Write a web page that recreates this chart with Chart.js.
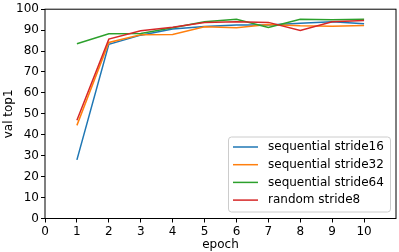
<!DOCTYPE html>
<html lang="en">
<head>
    <meta charset="UTF-8">
    <title>val top1 per epoch</title>
    <script src="https://cdn.jsdelivr.net/npm/chart.js"></script>
    <style>
        html, body { margin: 0; padding: 0; background: #fff; }
        #wrap { width: 399px; height: 252px; }
    </style>
</head>
<body>
    <div id="wrap"><canvas id="accChart" width="399" height="252"></canvas></div>

    <script>
        const epochs = [1, 2, 3, 4, 5, 6, 7, 8, 9, 10];
        const seqStride16 = [28.0, 83.2, 87.6, 90.5, 91.7, 92.4, 92.5, 93.3, 94.0, 93.0];
        const seqStride32 = [44.5, 84.1, 87.8, 87.9, 91.6, 91.1, 92.7, 92.1, 91.9, 92.2];
        const seqStride64 = [83.5, 88.3, 88.4, 91.1, 94.0, 95.2, 91.3, 95.2, 95.0, 95.2];
        const randStride8 = [46.9, 85.7, 89.7, 91.4, 93.7, 94.0, 93.7, 89.8, 94.0, 94.6];
        const seriesNames = ['sequential stride16', 'sequential stride32', 'sequential stride64', 'random stride8'];
        const seriesColors = ['#1f77b4', '#ff7f0e', '#2ca02c', '#d62728'];
        const xTicks = [0, 1, 2, 3, 4, 5, 6, 7, 8, 9, 10];
        const yTicks = [0, 10, 20, 30, 40, 50, 60, 70, 80, 90, 100];

        const font = { family: 'DejaVu Sans', size: 12 };
        const allSeries = [seqStride16, seqStride32, seqStride64, randStride8];

        const datasets = allSeries.map((vals, i) => ({
            label: seriesNames[i],
            data: epochs.map((e, j) => ({ x: e, y: vals[j] })),
            borderColor: seriesColors[i],
            backgroundColor: seriesColors[i],
            borderWidth: 1.5,
            pointRadius: 0,
            fill: false,
            tension: 0,
            order: allSeries.length - i
        }));

        // box around plot + matplotlib style legend
        const frameAndLegend = {
            id: 'frameAndLegend',
            afterDraw(chart) {
                const ctx = chart.ctx;
                const a = chart.chartArea;
                ctx.save();
                ctx.strokeStyle = '#000';
                ctx.lineWidth = 1;
                ctx.strokeRect(a.left, a.top, a.right - a.left, a.bottom - a.top);

                const bx = a.right - 168, by = a.bottom - 82, bw = 162, bh = 75;
                ctx.fillStyle = 'rgba(255,255,255,0.8)';
                ctx.strokeStyle = '#cccccc';
                ctx.beginPath();
                ctx.roundRect(bx + 0.5, by + 0.5, bw, bh, 3);
                ctx.fill();
                ctx.stroke();

                ctx.font = '12px "DejaVu Sans"';
                ctx.textBaseline = 'middle';
                seriesNames.forEach((name, i) => {
                    const y = by + 10.5 + i * 17.7;
                    ctx.strokeStyle = seriesColors[i];
                    ctx.lineWidth = 1.5;
                    ctx.beginPath();
                    ctx.moveTo(bx + 5, y);
                    ctx.lineTo(bx + 30, y);
                    ctx.stroke();
                    ctx.fillStyle = '#000';
                    ctx.fillText(name, bx + 40, y);
                });
                ctx.restore();
            }
        };

        const ctx = document.getElementById('accChart').getContext('2d');
        const accChart = new Chart(ctx, {
            type: 'line',
            data: { datasets: datasets },
            options: {
                responsive: false,
                animation: false,
                layout: { padding: { top: 6, right: 3, left: 2, bottom: 0 } },
                plugins: {
                    legend: { display: false },
                    tooltip: { enabled: false }
                },
                scales: {
                    x: {
                        type: 'linear',
                        min: 0,
                        max: 11,
                        afterBuildTicks: s => { s.ticks = xTicks.map(v => ({ value: v })); },
                        afterFit: s => { s.height = 33.5; },
                        ticks: { font: font, color: '#000', padding: 2, maxRotation: 0 },
                        grid: { drawOnChartArea: false, drawTicks: true, tickLength: 4, color: '#000' },
                        border: { display: false },
                        title: { display: true, text: 'epoch', font: font, color: '#000', padding: { top: 0, bottom: 0 } }
                    },
                    y: {
                        min: 0,
                        max: 100,
                        afterBuildTicks: s => { s.ticks = yTicks.map(v => ({ value: v })); },
                        afterFit: s => { s.width = 43; },
                        ticks: { font: font, color: '#000', padding: 2 },
                        grid: { drawOnChartArea: false, drawTicks: true, tickLength: 4, color: '#000' },
                        border: { display: false },
                        title: { display: true, text: 'val top1', font: font, color: '#000', padding: { top: 0, bottom: 2 } }
                    }
                }
            },
            plugins: [frameAndLegend]
        });
    </script>
</body>
</html>
